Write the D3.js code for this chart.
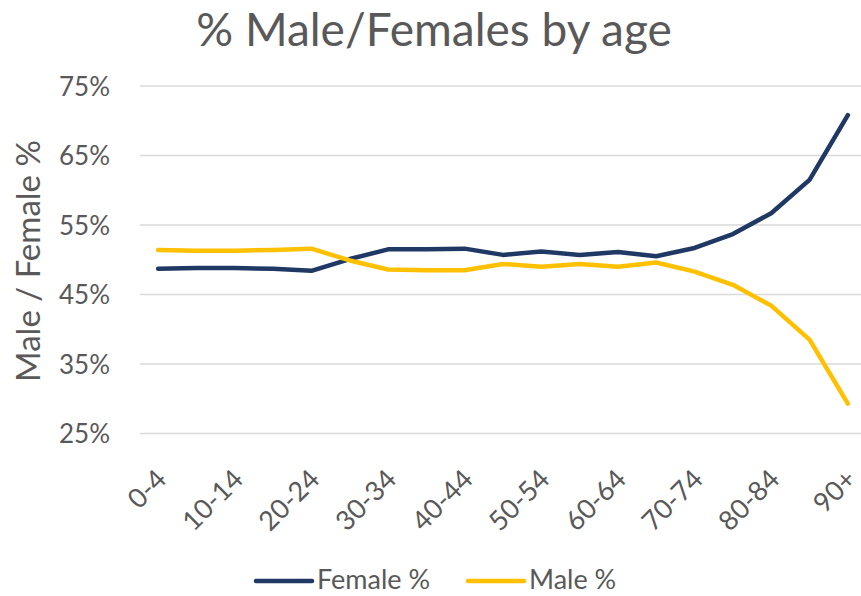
<!DOCTYPE html>
<html>
<head>
<meta charset="utf-8">
<script src="https://cdn.jsdelivr.net/npm/d3@7"></script>
<style>
  body { margin: 0; background: #fff; }
  svg text { font-family: Lato, "Open Sans", sans-serif; fill: #595959; }
</style>
</head>
<body>
<div id="chart"></div>
<script>
var ageGroups = ["0-4", "5-9", "10-14", "15-19", "20-24", "25-29", "30-34", "35-39", "40-44",
  "45-49", "50-54", "55-59", "60-64", "65-69", "70-74", "75-79", "80-84", "85-89", "90+"];
var femalePct = [48.7, 48.8, 48.8, 48.7, 48.4, 50.1, 51.5, 51.5, 51.6, 50.7, 51.2, 50.7, 51.1, 50.5,
  51.7, 53.7, 56.7, 61.5, 70.8];
var malePct = [51.4, 51.3, 51.3, 51.4, 51.6, 49.9, 48.6, 48.5, 48.5, 49.4, 49.0, 49.4, 49.0, 49.6,
  48.3, 46.4, 43.4, 38.5, 29.3];
var yTicks = [25, 35, 45, 55, 65, 75];

var series = [
  {name: "Female %", values: femalePct, color: "#203864"},
  {name: "Male %", values: malePct, color: "#FFC000"}
];

var width = 861, height = 596;
var margin = {top: 86, left: 139, right: -6, bottom: 162};

var svg = d3.select("#chart").append("svg")
  .attr("width", width)
  .attr("height", height);

var x = d3.scaleBand()
  .domain(ageGroups)
  .range([margin.left, width - margin.right]);

var y = d3.scaleLinear()
  .domain([25, 75])
  .range([height - margin.bottom - 0.5, margin.top]);

// gridlines
svg.append("g")
  .selectAll("line")
  .data(yTicks)
  .enter().append("line")
    .attr("x1", margin.left + 1)
    .attr("x2", width)
    .attr("y1", function(d) { return y(d); })
    .attr("y2", function(d) { return y(d); })
    .attr("stroke", "#d9d9d9")
    .attr("stroke-width", 1.5);

// y axis labels
var yAxis = svg.append("g")
  .attr("transform", "translate(" + (margin.left - 29) + ",0)")
  .call(d3.axisLeft(y).tickValues(yTicks).tickSize(0).tickFormat(function(d) { return d + "%"; }));
yAxis.select(".domain").remove();
yAxis.selectAll("text")
  .attr("x", 0)
  .style("font-size", "26px")
  .attr("dy", "0.35em");

// x axis labels, every other category
var xAxis = svg.append("g")
  .attr("transform", "translate(0," + (height - margin.bottom) + ")")
  .call(d3.axisBottom(x).tickSize(0)
    .tickValues(ageGroups.filter(function(d, i) { return i % 2 == 0; })));
xAxis.select(".domain").remove();
xAxis.selectAll("text")
  .style("font-size", "27px")
  .style("text-anchor", "end")
  .attr("dy", 0)
  .attr("transform", "translate(10,47) rotate(-45)")
  .attr("y", 0)
  .attr("x", 0);

// lines
var line = d3.line()
  .x(function(d, i) { return x(ageGroups[i]) + x.bandwidth() / 2; })
  .y(function(d) { return y(d); });

svg.selectAll(".series")
  .data(series)
  .enter().append("path")
    .attr("class", "series")
    .attr("fill", "none")
    .attr("stroke", function(d) { return d.color; })
    .attr("stroke-width", 4.5)
    .attr("stroke-linejoin", "round")
    .attr("stroke-linecap", "round")
    .attr("d", function(d) { return line(d.values); });

// title
svg.append("text")
  .attr("x", 434)
  .attr("y", 46)
  .attr("text-anchor", "middle")
  .style("font-size", "46px")
  .text("% Male/Females by age");

// y axis title
svg.append("text")
  .attr("transform", "translate(40,261) rotate(-90)")
  .attr("text-anchor", "middle")
  .style("font-size", "33px")
  .text("Male / Female %");

// legend
var legend = svg.append("g")
  .selectAll("g")
  .data(series)
  .enter().append("g")
    .attr("transform", function(d, i) { return "translate(" + (256 + i * 212) + ",581)"; });

legend.append("line")
  .attr("x1", 0).attr("x2", 56)
  .attr("stroke", function(d) { return d.color; })
  .attr("stroke-width", 4.5)
  .attr("stroke-linecap", "round");

legend.append("text")
  .attr("x", 61)
  .attr("y", 8)
  .style("font-size", "27px")
  .text(function(d) { return d.name; });
</script>
</body>
</html>
